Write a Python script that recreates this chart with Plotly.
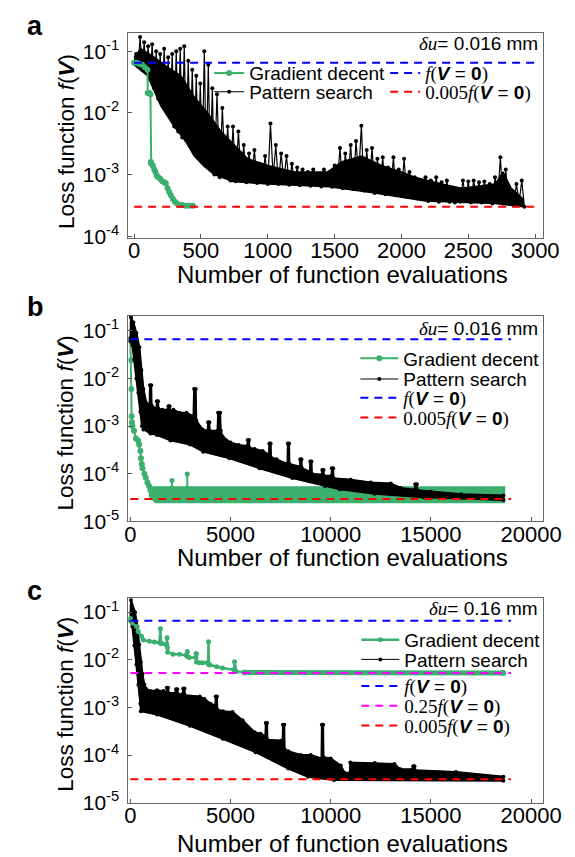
import plotly.graph_objects as go

W, H = 575, 857
FONT = "Liberation Sans, Arial, sans-serif"
SERIF = "Liberation Serif"
GREEN = "#3BAF6E"

# ---------------- panel a data ----------------
GD_A_X = [0, 20, 40, 60, 80, 100, 102, 115, 122, 125, 128, 140, 150, 160, 170, 180, 195, 210, 225, 237, 250, 262, 275, 290, 305, 320, 340, 360, 385, 410, 440]
GD_A_Y = [0.065, 0.065, 0.062, 0.06, 0.055, 0.05, 0.021, 0.021, 0.02, 0.0016, 0.0015, 0.0014, 0.0012, 0.0011, 0.00095, 0.0009, 0.00085, 0.00078, 0.00075, 0.00072, 0.0006, 0.00052, 0.00046, 0.0004, 0.00036, 0.00034, 0.00032, 0.00032, 0.00031, 0.00031, 0.00031]

PS_A_HEAD_X = [0, 15, 30, 45, 60, 75, 90, 105, 120, 135, 150, 165, 180, 195, 210, 225, 240, 255, 270, 285, 300, 315, 330, 345, 360, 375, 390, 405, 420, 435, 450, 465, 480, 495, 510, 525, 540, 555, 570, 585, 600]
PS_A_HEAD_Y = [0.065, 0.09, 0.06, 0.17, 0.05, 0.14, 0.045, 0.12, 0.035, 0.13, 0.025, 0.1, 0.017, 0.09, 0.014, 0.11, 0.011, 0.08, 0.009, 0.09, 0.006, 0.1, 0.005, 0.11, 0.004, 0.12, 0.0036, 0.07, 0.003, 0.05, 0.0025, 0.04, 0.002, 0.03, 0.0016, 0.1, 0.0014, 0.06, 0.0012, 0.025, 0.001]
PS_A_PEAK_X = [620, 660, 700, 740, 780, 820, 860, 900, 940, 980, 1020, 1060, 1100, 1140, 1180, 1220, 1260, 1300, 1340, 1380, 1420, 1460, 1500, 1540, 1580, 1620, 1660, 1700, 1740, 1780, 1820, 1860, 1900, 1940, 1980, 2020, 2060, 2100, 2140, 2180, 2220, 2260, 2300, 2340, 2380, 2420, 2460, 2500, 2540, 2580, 2620, 2660, 2700, 2740, 2780, 2820, 2860, 2900]
PS_A_PEAK_Y = [0.02, 0.012, 0.006, 0.006, 0.005, 0.003, 0.0022, 0.0025, 0.0015, 0.002, 0.0067, 0.003, 0.0022, 0.002, 0.0015, 0.0013, 0.0012, 0.0011, 0.0012, 0.001, 0.0012, 0.0011, 0.0014, 0.0027, 0.0022, 0.003, 0.0035, 0.0062, 0.0025, 0.0027, 0.0018, 0.0019, 0.0013, 0.0019, 0.0012, 0.0018, 0.0011, 0.0009, 0.0008, 0.0009, 0.0008, 0.0009, 0.00075, 0.0008, 0.0006, 0.00048, 0.0008, 0.00077, 0.0008, 0.00075, 0.00077, 0.0007, 0.0009, 0.0019, 0.0012, 0.00048, 0.0007, 0.0008]
PS_A_LOW_X = [640, 680, 720, 760, 800, 840, 880, 920, 960, 1000, 1040, 1080, 1120, 1160, 1200, 1240, 1280, 1320, 1360, 1400, 1440, 1480, 1520, 1560, 1600, 1640, 1680, 1720, 1760, 1800, 1840, 1880, 1920, 1960, 2000, 2040, 2080, 2120, 2160, 2200, 2240, 2280, 2320, 2360, 2400, 2440, 2480, 2520, 2560, 2600, 2640, 2680, 2720, 2760, 2800, 2840, 2880, 2920]
PS_A_LOW_Y = [0.0009, 0.0012, 0.0008, 0.00078, 0.001, 0.00075, 0.0009, 0.00073, 0.0008, 0.0007, 0.0009, 0.0007, 0.0008, 0.00068, 0.00075, 0.00067, 0.0008, 0.00066, 0.0007, 0.00064, 0.0007, 0.00063, 0.0007, 0.0006, 0.0008, 0.00058, 0.0009, 0.00055, 0.0007, 0.0005, 0.0006, 0.00048, 0.0006, 0.00046, 0.0005, 0.00044, 0.0005, 0.00041, 0.00045, 0.00037, 0.00045, 0.00036, 0.0004, 0.00036, 0.00035, 0.00036, 0.0004, 0.00035, 0.0004, 0.00035, 0.00038, 0.00034, 0.0004, 0.00034, 0.0004, 0.00032, 0.00035, 0.0003]
# dense core of the pattern-search band (upper / lower edge)
PS_A_CORE_UP_X = [0, 50, 150, 250, 350, 450, 550, 650, 750, 850, 1000, 1200, 1450, 1550, 1700, 1850, 2000, 2100, 2300, 2450, 2700, 2760, 2820, 2910]
PS_A_CORE_UP_Y = [0.08, 0.11, 0.08, 0.055, 0.04, 0.018, 0.01, 0.005, 0.003, 0.0018, 0.0014, 0.0011, 0.0011, 0.0016, 0.002, 0.0014, 0.0011, 0.0009, 0.0007, 0.0006, 0.0007, 0.0011, 0.0006, 0.0004]
PS_A_CORE_LOW_X = [0, 100, 200, 300, 380, 450, 525, 600, 740, 1000, 1460, 1800, 2180, 2700, 2910]
PS_A_CORE_LOW_Y = [0.06, 0.04, 0.013, 0.006, 0.0036, 0.002, 0.00135, 0.001, 0.00077, 0.0007, 0.00063, 0.0005, 0.00037, 0.00034, 0.0003]

REF_A_X = [0, 3000]
F0_A = [0.065, 0.065]
F005_A = [0.0003, 0.0003]

# ---------------- panel b data ----------------
GD_B_X = [0, 30, 45, 60, 80, 100, 180, 280, 380, 440, 500, 525, 570, 605, 700, 770, 850, 930, 1000]
GD_B_Y = [0.065, 0.024, 0.006, 0.0016, 0.0012, 0.001, 0.0008, 0.00055, 0.0005, 0.00041, 0.0003, 0.00021, 0.00016, 0.00013, 0.0001, 8.2e-05, 6.5e-05, 5.5e-05, 4.5e-05]
GD_B_BAND_X = [930, 18660, 18660, 1250, 930]
GD_B_BAND_Y = [5.2e-05, 5.2e-05, 2.5e-05, 2.5e-05, 3.5e-05]
GD_B_SPIKE_X = [2075, 2075, None, 2840, 2840]
GD_B_SPIKE_Y = [5e-05, 7.2e-05, None, 5e-05, 9.9e-05]

PS_B_UP_X = [0, 30, 150, 300, 450, 550, 650, 800, 960, 980, 1040, 1060, 1300, 1320, 1380, 1400, 1600, 1880, 1900, 1960, 1980, 2150, 2450, 2800, 3150, 3180, 3260, 3290, 3600, 3860, 3880, 3940, 3960, 4350, 4380, 4480, 4510, 4600, 5000, 5400, 5840, 5860, 5920, 5940, 6200, 6600, 6920, 6940, 7000, 7020, 7300, 7840, 7860, 7920, 7940, 8460, 8480, 8540, 8560, 8960, 8980, 9040, 9060, 9560, 9580, 9640, 9660, 10040, 10060, 10120, 10140, 11000, 12000, 13000, 13500, 14200, 14220, 14300, 14320, 15000, 16500, 18620]
PS_B_UP_Y = [0.07, 0.19, 0.15, 0.09, 0.045, 0.015, 0.006, 0.003, 0.0028, 0.0072, 0.0072, 0.0027, 0.0023, 0.0033, 0.0033, 0.0023, 0.0022, 0.0022, 0.0026, 0.0026, 0.0021, 0.0022, 0.0019, 0.0019, 0.0016, 0.006, 0.006, 0.0013, 0.00085, 0.0008, 0.0012, 0.0012, 0.0008, 0.0008, 0.0019, 0.0019, 0.0008, 0.0006, 0.00045, 0.0004, 0.00038, 0.00051, 0.00051, 0.00035, 0.00033, 0.0003, 0.00025, 0.00043, 0.00043, 0.00022, 0.0002, 0.00016, 0.00043, 0.00043, 0.00016, 0.00014, 0.0002, 0.0002, 0.00013, 0.00011, 0.00018, 0.00018, 0.0001, 9.5e-05, 0.00012, 0.00012, 9e-05, 9e-05, 0.00013, 0.00013, 8e-05, 7.5e-05, 6.5e-05, 6.2e-05, 5e-05, 4.6e-05, 6e-05, 6e-05, 4.5e-05, 4.2e-05, 3.7e-05, 3.5e-05]
PS_B_LOW_X = [0, 100, 200, 300, 400, 500, 580, 650, 1000, 1330, 2000, 2970, 3630, 4950, 6450, 8080, 9720, 10450, 12200, 14620, 18620]
PS_B_LOW_Y = [0.06, 0.05, 0.025, 0.01, 0.005, 0.002, 0.001, 0.00085, 0.0007, 0.00065, 0.0005, 0.00041, 0.00029, 0.00021, 0.00013, 8.1e-05, 5.5e-05, 4.7e-05, 3.8e-05, 3.2e-05, 2.8e-05]

REF_BC_X = [0, 19000]
F0_B = [0.066, 0.066]
F005_B = [2.95e-05, 2.95e-05]

# ---------------- panel c data ----------------
GD_C_X = [0, 80, 310, 390, 555, 640, 950, 1200, 1450, 1500, 1520, 1580, 1780, 1810, 1830, 1850, 1860, 2130, 2450, 2780, 2820, 2840, 2860, 2940, 3270, 3280, 3290, 3300, 3430, 3600, 3840, 3880, 3900, 3920, 3980, 4310, 4600, 5170, 5180, 5200, 5290, 5700]
GD_C_Y = [0.074, 0.059, 0.05, 0.039, 0.031, 0.026, 0.0245, 0.0235, 0.023, 0.045, 0.022, 0.022, 0.021, 0.021, 0.029, 0.018, 0.0144, 0.013, 0.013, 0.0124, 0.0124, 0.015, 0.0115, 0.0112, 0.0112, 0.0134, 0.0134, 0.009, 0.0087, 0.0087, 0.0087, 0.0087, 0.024, 0.0079, 0.0078, 0.0071, 0.0067, 0.0062, 0.0062, 0.0091, 0.0057, 0.0054]
GD_C_FLAT_X = [5700, 18610]
GD_C_FLAT_Y = [0.0054, 0.0053]

PS_C_UP_X = [0, 30, 230, 350, 440, 520, 605, 700, 770, 1000, 1330, 1650, 1800, 1820, 1880, 1900, 2260, 2280, 2340, 2360, 2620, 2640, 2700, 2720, 3460, 3700, 4000, 4240, 4260, 4320, 4340, 4620, 5100, 5600, 6200, 6500, 6740, 6760, 6820, 6840, 7520, 7600, 7620, 7680, 7700, 7880, 8500, 9000, 9540, 9560, 9620, 9640, 10000, 10500, 10700, 10950, 10980, 12200, 13180, 13480, 14100, 14120, 14180, 14200, 16250, 18620]
PS_C_UP_Y = [0.07, 0.18, 0.1, 0.05, 0.021, 0.009, 0.005, 0.003, 0.0025, 0.0022, 0.0023, 0.0022, 0.002, 0.0026, 0.0026, 0.002, 0.002, 0.0024, 0.0024, 0.0019, 0.0019, 0.0025, 0.0025, 0.0018, 0.0017, 0.0015, 0.0012, 0.0011, 0.0017, 0.0017, 0.0009, 0.00083, 0.0008, 0.00054, 0.0003, 0.00028, 0.00025, 0.00047, 0.00047, 0.00021, 0.0002, 0.0002, 0.00043, 0.00043, 0.00013, 0.00012, 0.0001, 0.0001, 8.5e-05, 0.00043, 0.00043, 9e-05, 8.5e-05, 6e-05, 4.2e-05, 4.2e-05, 7e-05, 6.8e-05, 6.5e-05, 5e-05, 5e-05, 5.8e-05, 5.8e-05, 4.8e-05, 4.4e-05, 3.5e-05]
PS_C_LOW_X = [0, 100, 200, 300, 400, 500, 525, 1330, 2970, 4610, 6250, 7880, 8860, 10170, 18620]
PS_C_LOW_Y = [0.065, 0.05, 0.02, 0.008, 0.003, 0.0012, 0.00083, 0.00071, 0.00041, 0.00022, 0.000115, 5.2e-05, 3.5e-05, 3.0e-05, 2.9e-05]

F0_C = [0.066, 0.066]
F025_C = [0.0053, 0.0053]
F005_C = [3.1e-05, 3.1e-05]

X_TICKS_A = [0, 500, 1000, 1500, 2000, 2500, 3000]
X_TEXT_A = ["0", "500", "1000", "1500", "2000", "2500", "3000"]
X_TICKS_BC = [0, 5000, 10000, 15000, 20000]
X_TEXT_BC = ["0", "5000", "10000", "15000", "20000"]
Y_TICKS_A = [1e-4, 1e-3, 1e-2, 1e-1]
Y_TEXT_A = ["10<sup>-4</sup>", "10<sup>-3</sup>", "10<sup>-2</sup>", "10<sup>-1</sup>"]
Y_TICKS_BC = [1e-5, 1e-4, 1e-3, 1e-2, 1e-1]
Y_TEXT_BC = ["10<sup>-5</sup>", "10<sup>-4</sup>", "10<sup>-3</sup>", "10<sup>-2</sup>", "10<sup>-1</sup>"]

SER = '<span style="font-family:%s">' % SERIF
NAME_F0 = SER + '<i>f</i>(</span><b><i>V</i></b> = <b>0</b>' + SER + ')</span>'
NAME_F025 = SER + '0.25<i>f</i>(</span><b><i>V</i></b> = <b>0</b>' + SER + ')</span>'
NAME_F005 = SER + '0.005<i>f</i>(</span><b><i>V</i></b> = <b>0</b>' + SER + ')</span>'

DASH = "8px,6px"

fig = go.Figure()


def ps_zigzag():
    xs = list(PS_A_HEAD_X)
    ys = list(PS_A_HEAD_Y)
    for i in range(len(PS_A_PEAK_X)):
        xs += [PS_A_PEAK_X[i], PS_A_LOW_X[i]]
        ys += [PS_A_PEAK_Y[i], PS_A_LOW_Y[i]]
    return xs, ys


# ---- panel a ----
fig.add_trace(go.Scatter(x=PS_A_CORE_UP_X + PS_A_CORE_LOW_X[::-1], y=PS_A_CORE_UP_Y + PS_A_CORE_LOW_Y[::-1],
                         mode="lines", fill="toself", fillcolor="black", line=dict(color="black", width=1.5),
                         showlegend=False, xaxis="x", yaxis="y"))
xa, ya = ps_zigzag()
fig.add_trace(go.Scatter(x=xa, y=ya, mode="lines+markers", name="Pattern search",
                         line=dict(color="black", width=1.2), marker=dict(color="black", size=4),
                         xaxis="x", yaxis="y", legend="legend2"))
fig.add_trace(go.Scatter(x=GD_A_X, y=GD_A_Y, mode="lines+markers", name="Gradient decent",
                         line=dict(color=GREEN, width=2), marker=dict(color=GREEN, size=6),
                         xaxis="x", yaxis="y", legend="legend"))
fig.add_trace(go.Scatter(x=REF_A_X, y=F0_A, mode="lines", name=NAME_F0,
                         line=dict(color="blue", width=2, dash=DASH), xaxis="x", yaxis="y", legend="legend3"))
fig.add_trace(go.Scatter(x=REF_A_X, y=F005_A, mode="lines", name=NAME_F005,
                         line=dict(color="red", width=2, dash=DASH), xaxis="x", yaxis="y", legend="legend4"))

# ---- panel b ----
fig.add_trace(go.Scatter(x=GD_B_BAND_X, y=GD_B_BAND_Y, mode="lines", fill="toself", fillcolor=GREEN,
                         line=dict(color=GREEN, width=2), showlegend=False, xaxis="x2", yaxis="y2"))
fig.add_trace(go.Scatter(x=GD_B_SPIKE_X, y=GD_B_SPIKE_Y, mode="lines+markers",
                         line=dict(color=GREEN, width=2), marker=dict(color=GREEN, size=5),
                         showlegend=False, xaxis="x2", yaxis="y2"))
fig.add_trace(go.Scatter(x=GD_B_X, y=GD_B_Y, mode="lines+markers", name="Gradient decent",
                         line=dict(color=GREEN, width=2), marker=dict(color=GREEN, size=6),
                         xaxis="x2", yaxis="y2", legend="legend5"))
fig.add_trace(go.Scatter(x=PS_B_UP_X + PS_B_LOW_X[::-1], y=PS_B_UP_Y + PS_B_LOW_Y[::-1], mode="lines",
                         fill="toself", fillcolor="black", line=dict(color="black", width=2),
                         showlegend=False, xaxis="x2", yaxis="y2"))
fig.add_trace(go.Scatter(x=PS_B_LOW_X, y=PS_B_LOW_Y, mode="lines+markers", name="Pattern search",
                         line=dict(color="black", width=1), marker=dict(color="black", size=4),
                         xaxis="x2", yaxis="y2", legend="legend6"))
fig.add_trace(go.Scatter(x=PS_B_UP_X, y=PS_B_UP_Y, mode="lines+markers", showlegend=False,
                         line=dict(color="black", width=1), marker=dict(color="black", size=4),
                         xaxis="x2", yaxis="y2"))
fig.add_trace(go.Scatter(x=REF_BC_X, y=F0_B, mode="lines", name=NAME_F0,
                         line=dict(color="blue", width=2, dash=DASH), xaxis="x2", yaxis="y2", legend="legend7"))
fig.add_trace(go.Scatter(x=REF_BC_X, y=F005_B, mode="lines", name=NAME_F005,
                         line=dict(color="red", width=2, dash=DASH), xaxis="x2", yaxis="y2", legend="legend8"))

# ---- panel c ----
fig.add_trace(go.Scatter(x=PS_C_UP_X + PS_C_LOW_X[::-1], y=PS_C_UP_Y + PS_C_LOW_Y[::-1], mode="lines",
                         fill="toself", fillcolor="black", line=dict(color="black", width=2),
                         showlegend=False, xaxis="x3", yaxis="y3"))
fig.add_trace(go.Scatter(x=PS_C_UP_X, y=PS_C_UP_Y, mode="lines+markers", showlegend=False,
                         line=dict(color="black", width=1), marker=dict(color="black", size=4),
                         xaxis="x3", yaxis="y3"))
fig.add_trace(go.Scatter(x=PS_C_LOW_X, y=PS_C_LOW_Y, mode="lines+markers", name="Pattern search",
                         line=dict(color="black", width=1), marker=dict(color="black", size=4),
                         xaxis="x3", yaxis="y3", legend="legend10"))
fig.add_trace(go.Scatter(x=GD_C_FLAT_X, y=GD_C_FLAT_Y, mode="lines+markers", showlegend=False,
                         line=dict(color=GREEN, width=5), marker=dict(color=GREEN, size=6),
                         xaxis="x3", yaxis="y3"))
fig.add_trace(go.Scatter(x=GD_C_X, y=GD_C_Y, mode="lines+markers", name="Gradient decent",
                         line=dict(color=GREEN, width=2.5), marker=dict(color=GREEN, size=5),
                         xaxis="x3", yaxis="y3", legend="legend9"))
fig.add_trace(go.Scatter(x=REF_BC_X, y=F0_C, mode="lines", name=NAME_F0,
                         line=dict(color="blue", width=2, dash=DASH), xaxis="x3", yaxis="y3", legend="legend11"))
fig.add_trace(go.Scatter(x=REF_BC_X, y=F025_C, mode="lines", name=NAME_F025,
                         line=dict(color="magenta", width=2, dash=DASH), xaxis="x3", yaxis="y3", legend="legend12"))
fig.add_trace(go.Scatter(x=REF_BC_X, y=F005_C, mode="lines", name=NAME_F005,
                         line=dict(color="red", width=2, dash=DASH), xaxis="x3", yaxis="y3", legend="legend13"))


def py(p):
    return 1 - p / H


def pxx(p):
    return p / W


axis_common = dict(showline=True, mirror=True, linecolor="#666666", linewidth=1, ticks="inside",
                   ticklen=4, tickcolor="#555555", showgrid=False, zeroline=False)
xfont = dict(tickfont=dict(family=FONT, size=22, color="black"), ticklabelstandoff=-7)
yfont = dict(tickfont=dict(family=FONT, size=21, color="black"), ticklabelstandoff=4)

XDOM = [pxx(121), pxx(552)]
layout = dict(
    width=W, height=H, margin=dict(l=0, r=0, t=0, b=0),
    paper_bgcolor="white", plot_bgcolor="white",
    font=dict(family=FONT, size=19, color="black"),
    xaxis=dict(domain=XDOM, anchor="y", range=[-43, 3058], tickvals=X_TICKS_A, ticktext=X_TEXT_A,
               **axis_common, **xfont),
    yaxis=dict(domain=[py(233), py(25)], anchor="x", type="log", range=[-4.03, -0.7],
               tickvals=Y_TICKS_A, ticktext=Y_TEXT_A, **axis_common, **yfont),
    xaxis2=dict(domain=XDOM, anchor="y2", range=[-100, 20590], tickvals=X_TICKS_BC, ticktext=X_TEXT_BC,
                **axis_common, **xfont),
    yaxis2=dict(domain=[py(520), py(312)], anchor="x2", type="log", range=[-5, -0.69],
                tickvals=Y_TICKS_BC, ticktext=Y_TEXT_BC, **axis_common, **yfont),
    xaxis3=dict(domain=XDOM, anchor="y3", range=[-100, 20590], tickvals=X_TICKS_BC, ticktext=X_TEXT_BC,
                **axis_common, **xfont),
    yaxis3=dict(domain=[py(805), py(598)], anchor="x3", type="log", range=[-5, -0.71],
                tickvals=Y_TICKS_BC, ticktext=Y_TEXT_BC, **axis_common, **yfont),
)

# one legend per entry, so rows can sit as close as in the reference
leg_pos = {
    "legend": (205, 66), "legend2": (205, 85),
    "legend3": (388, 66), "legend4": (388, 85),
    "legend5": (357, 355), "legend6": (357, 376), "legend7": (357, 395), "legend8": (357, 415),
    "legend9": (358, 640), "legend10": (358, 660), "legend11": (358, 687), "legend12": (358, 707),
    "legend13": (358, 727),
}
for k, (lx, ly) in leg_pos.items():
    layout[k] = dict(x=pxx(lx), y=py(ly), xanchor="left", yanchor="middle", bgcolor="rgba(0,0,0,0)",
                     borderwidth=0, font=dict(family=FONT, size=19, color="black"),
                     itemclick=False, itemdoubleclick=False)
for k in ["legend5", "legend6", "legend7", "legend8", "legend9", "legend10", "legend11", "legend12", "legend13"]:
    layout[k]["itemwidth"] = 38

fig.update_layout(**layout)

DU = '<span style="font-family:%s"><i>δu</i></span>= ' % SERIF
annots = [
    dict(text="<b>a</b>", x=pxx(14), y=py(18), xanchor="left", yanchor="middle", font=dict(size=27)),
    dict(text="<b>b</b>", x=pxx(14), y=py(303), xanchor="left", yanchor="middle", font=dict(size=27)),
    dict(text="<b>c</b>", x=pxx(14), y=py(591), xanchor="left", yanchor="middle", font=dict(size=27)),
    dict(text=DU + "0.016 mm", x=pxx(549), y=py(36), xanchor="right", yanchor="middle", font=dict(size=19)),
    dict(text=DU + "0.016 mm", x=pxx(549), y=py(325), xanchor="right", yanchor="middle", font=dict(size=19)),
    dict(text=DU + "0.16 mm", x=pxx(549), y=py(608), xanchor="right", yanchor="middle", font=dict(size=19)),
]
for yc in [135, 420, 705]:
    annots.append(dict(text="Loss function <i>f</i>(<b><i>V</i></b>)", x=pxx(56), y=py(yc), textangle=-90,
                       xanchor="center", yanchor="middle", font=dict(size=22.5)))
for yc in [270, 557, 846]:
    annots.append(dict(text="Number of function evaluations", x=pxx(344), y=py(yc),
                       xanchor="center", yanchor="middle", font=dict(size=24)))
for a in annots:
    a.update(xref="paper", yref="paper", showarrow=False)
    a["font"] = dict(family=FONT, color="black", **a["font"])
fig.update_layout(annotations=annots)

fig.write_html("out.html")
